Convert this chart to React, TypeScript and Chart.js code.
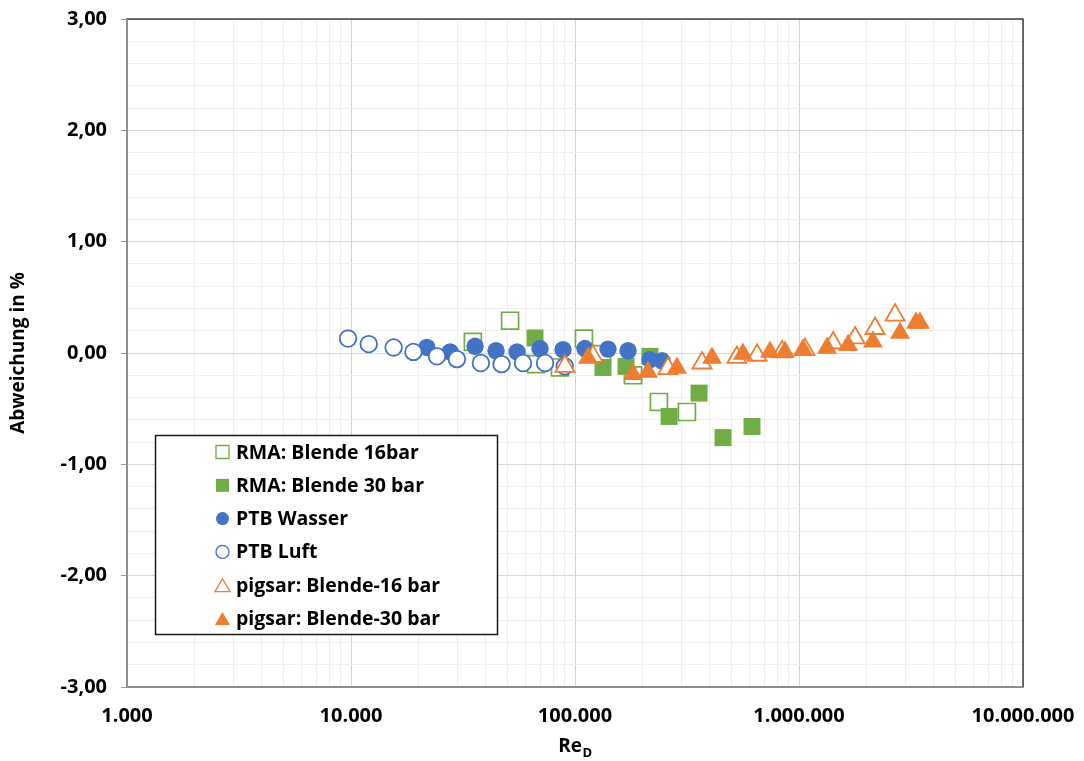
import React, { useEffect, useRef } from 'react';
import { Chart, registerables } from 'chart.js';

Chart.register(...registerables);

// ---------- data ----------
const seriesLabels = [
  'RMA: Blende 16bar',
  'RMA: Blende 30 bar',
  'PTB Wasser',
  'PTB Luft',
  'pigsar: Blende-16 bar',
  'pigsar: Blende-30 bar',
];

const rma16X = [35000, 51300, 67000, 85700, 109600, 132000, 181500, 237000, 316000];
const rma16Y = [0.1, 0.29, -0.1, -0.13, 0.13, -0.01, -0.2, -0.44, -0.53];

const rma30X = [66300, 133300, 169000, 216000, 263000, 358000, 458000, 617000];
const rma30Y = [0.135, -0.13, -0.12, -0.03, -0.57, -0.36, -0.76, -0.66];

const ptbWasserX = [21800, 27700, 35800, 44400, 55100, 69800, 88400, 110800, 140400, 172500, 216300, 244500];
const ptbWasserY = [0.05, 0.01, 0.06, 0.02, 0.01, 0.04, 0.03, 0.04, 0.035, 0.02, -0.06, -0.07];

const ptbLuftX = [9700, 12000, 15500, 19000, 24200, 29700, 38000, 47000, 58600, 73500, 90000];
const ptbLuftY = [0.13, 0.08, 0.05, 0.01, -0.03, -0.055, -0.09, -0.1, -0.09, -0.09, -0.12];

const pigsar16X = [90200, 120300, 260000, 369000, 528000, 650000, 840000, 1063000, 1420000, 1780000, 2185000, 2685000];
const pigsar16Y = [-0.12, -0.03, -0.14, -0.09, -0.04, -0.02, 0.01, 0.03, 0.09, 0.135, 0.22, 0.34];

const pigsar30X = [114300, 181500, 211700, 285300, 409000, 562000, 742000, 866000, 1042000, 1334000, 1656000, 2138000, 2825000, 3327000, 3467000];
const pigsar30Y = [-0.045, -0.19, -0.17, -0.135, -0.045, -0.01, 0.01, 0.01, 0.03, 0.045, 0.07, 0.1, 0.18, 0.27, 0.27];

const xTickValues = [1000, 10000, 100000, 1000000, 10000000];
const xTickLabels = ['1.000', '10.000', '100.000', '1.000.000', '10.000.000'];
const yTickValues = [-3, -2, -1, 0, 1, 2, 3];
const yTickLabels = ['-3,00', '-2,00', '-1,00', '0,00', '1,00', '2,00', '3,00'];
const yMinorStep = 0.2;

const xAxisTitle = 'Re';
const xAxisTitleSub = 'D';
const yAxisTitle = 'Abweichung in %';

// ---------- styles ----------
const GREEN = '#70AD47';
const BLUE = '#4472C4';
const ORANGE = '#ED7D31';
const FONT = '"Open Sans", "DejaVu Sans", sans-serif';

const toPoints = (xs: number[], ys: number[]) => xs.map((x, i) => ({ x, y: ys[i] }));

// gridline positions (1..9 per decade, 0.2 steps)
const xGrid: number[] = [];
for (let d = 0; d < xTickValues.length - 1; d++) {
  for (let k = 1; k < 10; k++) xGrid.push(k * xTickValues[d]);
}
xGrid.push(xTickValues[xTickValues.length - 1]);
const yGrid: number[] = [];
{
  const n = Math.round((yTickValues[yTickValues.length - 1] - yTickValues[0]) / yMinorStep);
  for (let i = 0; i <= n; i++) yGrid.push(Math.round((yTickValues[0] + i * yMinorStep) * 10) / 10);
}

const isXMajor = (v: number) => xTickValues.some((t) => Math.abs(t - v) < 1e-6 * t);
const yMajorIndex = (v: number) => yTickValues.findIndex((t) => Math.abs(t - v) < 1e-9);

// ---------- plugins ----------
function drawMarker(ctx: CanvasRenderingContext2D, style: string, x: number, y: number, size: number, fill: string, stroke: string, bw: number) {
  ctx.beginPath();
  if (style === 'rect') {
    ctx.rect(x - size / 2, y - size / 2, size, size);
  } else if (style === 'triangle') {
    const h = size * 0.866;
    ctx.moveTo(x, y - h / 2);
    ctx.lineTo(x + size / 2, y + h / 2);
    ctx.lineTo(x - size / 2, y + h / 2);
    ctx.closePath();
  } else {
    ctx.arc(x, y, size / 2, 0, Math.PI * 2);
  }
  ctx.fillStyle = fill;
  ctx.fill();
  if (bw > 0) {
    ctx.lineWidth = bw;
    ctx.strokeStyle = stroke;
    ctx.stroke();
  }
}

const framePlugin = {
  id: 'frameAndExtras',
  afterDraw(chart: any) {
    const ctx: CanvasRenderingContext2D = chart.ctx;
    const a = chart.chartArea;
    ctx.save();
    // plot area border
    ctx.strokeStyle = '#262626';
    ctx.lineWidth = 1.3;
    ctx.strokeRect(a.left, a.top, a.right - a.left, a.bottom - a.top);
    // axis lines
    ctx.strokeStyle = '#9a9a9a';
    ctx.lineWidth = 1.6;
    ctx.beginPath();
    ctx.moveTo(a.left, a.top);
    ctx.lineTo(a.left, a.bottom);
    ctx.lineTo(a.right, a.bottom);
    ctx.stroke();

    // x axis title with subscript
    const cx = (a.left + a.right) / 2;
    ctx.fillStyle = '#000';
    ctx.textBaseline = 'alphabetic';
    ctx.font = `bold 19px ${FONT}`;
    const w1 = ctx.measureText(xAxisTitle).width;
    ctx.font = `bold 13px ${FONT}`;
    const w2 = ctx.measureText(xAxisTitleSub).width;
    const x0 = cx - (w1 + w2) / 2;
    ctx.font = `bold 19px ${FONT}`;
    ctx.textAlign = 'left';
    ctx.fillText(xAxisTitle, x0, 752);
    ctx.font = `bold 13px ${FONT}`;
    ctx.fillText(xAxisTitleSub, x0 + w1 + 0.5, 757);

    // legend box
    const lx = 155.5, ly = 435.5, lw = 342, lh = 199;
    ctx.fillStyle = '#fff';
    ctx.fillRect(lx, ly, lw, lh);
    ctx.strokeStyle = '#1a1a1a';
    ctx.lineWidth = 1.5;
    ctx.strokeRect(lx, ly, lw, lh);
    const sizes: Record<string, number> = { rect: 13, circle: 13, triangle: 15 };
    chart.data.datasets.forEach((ds: any, i: number) => {
      const cy = 452 + i * 33.3;
      drawMarker(ctx, ds.pointStyle, 222.5, cy, sizes[ds.pointStyle], ds.pointBackgroundColor, ds.pointBorderColor, ds.pointBorderWidth ? 1.3 : 0);
      ctx.fillStyle = '#000';
      ctx.font = `bold 19.5px ${FONT}`;
      ctx.textBaseline = 'middle';
      ctx.textAlign = 'left';
      ctx.fillText(ds.label, 236, cy + 1);
    });
    ctx.restore();
  },
};

export default function App() {
  const ref = useRef<HTMLCanvasElement>(null);

  useEffect(() => {
    if (!ref.current) return;
    const mk = (label: string, data: any[], style: string, radius: number, fill: string, stroke: string, bw: number, order: number) => ({
      label,
      data,
      pointStyle: style,
      pointRadius: radius,
      pointHoverRadius: radius,
      pointBackgroundColor: fill,
      pointBorderColor: stroke,
      pointBorderWidth: bw,
      showLine: false,
      order,
    });

    const chart = new Chart(ref.current, {
      type: 'scatter',
      data: {
        datasets: [
          mk(seriesLabels[0], toPoints(rma16X, rma16Y), 'rect', 12, '#ffffff', GREEN, 1.7, 6),
          mk(seriesLabels[1], toPoints(rma30X, rma30Y), 'rect', 12, GREEN, GREEN, 0, 5),
          mk(seriesLabels[2], toPoints(ptbWasserX, ptbWasserY), 'circle', 8.7, BLUE, BLUE, 0, 4),
          mk(seriesLabels[3], toPoints(ptbLuftX, ptbLuftY), 'circle', 8.3, '#ffffff', BLUE, 1.8, 3),
          mk(seriesLabels[4], toPoints(pigsar16X, pigsar16Y), 'triangle', 11, '#ffffff', ORANGE, 1.8, 2),
          mk(seriesLabels[5], toPoints(pigsar30X, pigsar30Y), 'triangle', 11.5, ORANGE, ORANGE, 0, 1),
        ] as any,
      },
      options: {
        responsive: false,
        maintainAspectRatio: false,
        animation: false,
        devicePixelRatio: 1,
        events: [],
        layout: { padding: { top: 19, right: 61, left: 0, bottom: 0 } },
        plugins: {
          legend: { display: false },
          tooltip: { enabled: false },
          title: { display: false },
        },
        scales: {
          x: {
            type: 'logarithmic',
            min: xTickValues[0],
            max: xTickValues[xTickValues.length - 1],
            afterBuildTicks: (scale: any) => {
              scale.ticks = xGrid.map((v) => ({ value: v }));
            },
            afterFit: (scale: any) => {
              scale.height = 74;
              scale.paddingLeft = 0;
              scale.paddingRight = 0;
            },
            border: { display: false },
            grid: {
              color: (c: any) => (c.tick && isXMajor(c.tick.value) ? '#d4d4d4' : '#eeeeee'),
              lineWidth: 1,
              tickLength: 6,
              tickColor: 'rgba(0,0,0,0)',
            },
            ticks: {
              autoSkip: false,
              maxRotation: 0,
              minRotation: 0,
              padding: 11,
              color: '#000',
              font: { family: FONT, size: 20, weight: 'bold' },
              callback: (v: any) => {
                const i = xTickValues.findIndex((t) => Math.abs(t - Number(v)) < 1e-6 * t);
                return i >= 0 ? xTickLabels[i] : '';
              },
            },
          },
          y: {
            type: 'linear',
            min: yTickValues[0],
            max: yTickValues[yTickValues.length - 1],
            afterBuildTicks: (scale: any) => {
              scale.ticks = yGrid.map((v) => ({ value: v }));
            },
            afterFit: (scale: any) => {
              scale.width = 127;
              scale.paddingTop = 0;
              scale.paddingBottom = 0;
            },
            border: { display: false },
            grid: {
              color: (c: any) => (c.tick && yMajorIndex(c.tick.value) >= 0 ? '#d9d9d9' : '#f0f0f0'),
              lineWidth: 1,
              tickLength: 6,
              tickColor: (c: any) => (c.tick && yMajorIndex(c.tick.value) >= 0 ? '#9a9a9a' : 'rgba(0,0,0,0)'),
            },
            title: {
              display: true,
              text: yAxisTitle,
              color: '#000',
              font: { family: FONT, size: 19, weight: 'bold' },
              padding: { top: 7, bottom: 0 },
            },
            ticks: {
              autoSkip: false,
              padding: 14,
              color: '#000',
              font: { family: FONT, size: 20, weight: 'bold' },
              callback: (v: any) => {
                const i = yMajorIndex(Number(v));
                return i >= 0 ? yTickLabels[i] : '';
              },
            },
          },
        },
      } as any,
      plugins: [framePlugin],
    });

    let alive = true;
    const fonts: any = (document as any).fonts;
    if (fonts && fonts.load) {
      Promise.all([fonts.load(`bold 20px "Open Sans"`), fonts.load(`bold 13px "Open Sans"`)]).then(() => {
        if (alive) chart.update();
      }, () => {});
    }
    return () => {
      alive = false;
      chart.destroy();
    };
  }, []);

  return (
    <div style={{ position: 'fixed', left: 0, top: 0, width: 1084, height: 761, background: '#fff' }}>
      <canvas ref={ref} width={1084} height={761} style={{ display: 'block', width: 1084, height: 761 }} />
    </div>
  );
}
